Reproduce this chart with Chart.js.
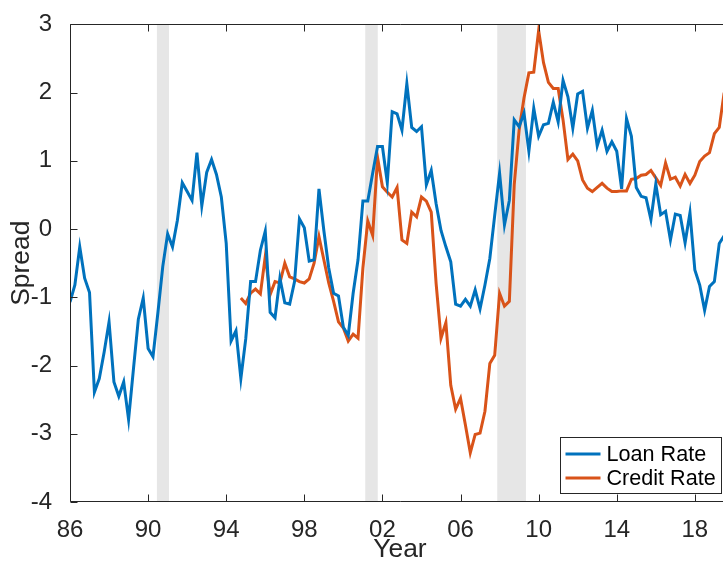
<!DOCTYPE html>
<html><head><meta charset="utf-8">
<script src="https://cdn.jsdelivr.net/npm/chart.js@4.4.1/dist/chart.umd.min.js"></script>
<style>
html,body{margin:0;padding:0;overflow:hidden;background:#fff;width:723px;height:563px}
#wrap{width:730px;height:563px;position:relative}
canvas{display:block}
</style></head>
<body><div id="wrap"><canvas id="c" width="730" height="563"></canvas></div>
<script>
// Quarterly data, loan rate from 1986Q1, credit rate from 1994Q4
const loanStart = 1986;
const loanRate = [
 -1.07,-0.82,-0.26,-0.72,-0.93,-2.39,-2.19,-1.80,-1.36,-2.24,
 -2.45,-2.24,-2.79,-2.05,-1.32,-1.01,-1.75,-1.87,-1.23,-0.55,
 -0.07,-0.26,0.13,0.68,0.55,0.42,1.12,0.34,0.83,1.02,
 0.80,0.47,-0.21,-1.64,-1.49,-2.19,-1.61,-0.77,-0.77,-0.31,
 -0.03,-1.22,-1.30,-0.72,-1.08,-1.10,-0.77,0.15,0.02,-0.47,
 -0.45,0.59,-0.02,-0.57,-0.94,-0.98,-1.44,-1.56,-0.94,-0.45,
 0.41,0.41,0.82,1.21,1.21,0.68,1.72,1.69,1.45,2.13,
 1.49,1.43,1.50,0.65,0.86,0.37,-0.02,-0.26,-0.48,-1.10,
 -1.13,-1.03,-1.13,-0.89,-1.17,-0.82,-0.43,0.20,0.82,0.06,
 0.42,1.60,1.50,1.70,1.14,1.77,1.36,1.53,1.55,1.86,
 1.57,2.18,1.94,1.48,1.98,2.02,1.48,1.74,1.22,1.45,
 1.14,1.28,1.14,0.59,1.62,1.36,0.61,0.48,0.46,0.14,
 0.66,0.21,0.26,-0.16,0.22,0.20,-0.20,0.24,-0.60,-0.82,
 -1.19,-0.84,-0.77,-0.21,-0.10
];
const creditStart = 1994.75;
const creditRate = [
 -1.01,-1.09,-0.94,-0.88,-0.95,-0.40,-0.96,-0.77,-0.79,-0.50,
 -0.70,-0.73,-0.77,-0.79,-0.73,-0.50,-0.11,-0.45,-0.79,-1.06,
 -1.36,-1.45,-1.64,-1.54,-1.60,-0.57,0.12,-0.09,1.05,0.62,
 0.54,0.47,0.61,-0.16,-0.21,0.25,0.18,0.47,0.41,0.25,
 -0.80,-1.60,-1.37,-2.29,-2.64,-2.48,-2.87,-3.28,-3.01,-2.99,
 -2.67,-1.97,-1.85,-0.94,-1.13,-1.06,0.65,1.45,1.92,2.29,
 2.30,2.91,2.44,2.15,2.06,2.06,1.60,1.02,1.10,1.00,
 0.72,0.60,0.55,0.61,0.67,0.60,0.55,0.55,0.56,0.56,
 0.73,0.74,0.79,0.80,0.86,0.75,0.64,0.97,0.73,0.76,
 0.63,0.80,0.67,0.79,0.99,1.07,1.12,1.40,1.49,2.00
];
const recessions = [[1990.45, 1991.07], [2001.12, 2001.76], [2007.88, 2009.35]];
const xTickYears = [1986, 1990, 1994, 1998, 2002, 2006, 2010, 2014, 2018];
const xTickLabels = ['86', '90', '94', '98', '02', '06', '10', '14', '18'];
const yTicks = [3, 2, 1, 0, -1, -2, -3, -4];
const seriesLabels = ['Loan Rate', 'Credit Rate'];
const seriesColors = ['#0072BD', '#D95319'];

const axisColor = '#262626';
const FONT = '"Liberation Sans", Arial, Helvetica, sans-serif';

const loanPts = loanRate.map((v, i) => ({x: loanStart + i * 0.25, y: v}));
const creditPts = creditRate.map((v, i) => ({x: creditStart + i * 0.25, y: v}));

const matlabAxes = {
  id: 'matlabAxes',
  beforeDatasetsDraw(chart) {
    const {ctx, chartArea: a, scales: {x}} = chart;
    ctx.save();
    ctx.fillStyle = '#e6e6e6';
    recessions.forEach(([s, e]) => {
      const x0 = x.getPixelForValue(s), x1 = x.getPixelForValue(e);
      ctx.fillRect(x0, a.top, x1 - x0, a.bottom - a.top);
    });
    ctx.restore();
  },
  afterDatasetsDraw(chart) {
    const {ctx, chartArea: a, scales: {x, y}} = chart;
    const tl = 7;
    ctx.save();
    ctx.strokeStyle = axisColor;
    ctx.lineWidth = 1;
    const L = Math.round(a.left) + 0.5, T = Math.round(a.top) + 0.5, B = Math.round(a.bottom) - 0.5;
    ctx.beginPath();
    ctx.moveTo(a.right + 2, T); ctx.lineTo(L, T); ctx.lineTo(L, B); ctx.lineTo(a.right + 2, B);
    xTickYears.forEach(v => {
      const px = Math.round(x.getPixelForValue(v)) + 0.5;
      ctx.moveTo(px, B); ctx.lineTo(px, B - tl);
      ctx.moveTo(px, T); ctx.lineTo(px, T + tl);
    });
    yTicks.forEach(v => {
      const py = Math.round(y.getPixelForValue(v)) + 0.5;
      ctx.moveTo(L, py); ctx.lineTo(L + tl, py);
    });
    ctx.stroke();

    // legend (southeast, inside axes)
    const bw = 161, bh = 56;
    const bx = Math.round(a.right - 9 - bw) + 0.5, by = Math.round(a.bottom - 9 - bh) + 0.5;
    ctx.fillStyle = '#fff';
    ctx.fillRect(bx, by, bw, bh);
    ctx.strokeRect(bx, by, bw, bh);
    ctx.font = '21.6px ' + FONT;
    ctx.textBaseline = 'middle';
    ctx.textAlign = 'left';
    seriesLabels.forEach((lab, i) => {
      const cy = by + 16.5 + i * 24;
      ctx.strokeStyle = seriesColors[i];
      ctx.lineWidth = 3;
      ctx.beginPath(); ctx.moveTo(bx + 5, cy); ctx.lineTo(bx + 40, cy); ctx.stroke();
      ctx.fillStyle = '#000';
      ctx.fillText(lab, bx + 46, cy + 1);
    });
    ctx.restore();
  }
};

new Chart(document.getElementById('c'), {
  type: 'line',
  data: {
    datasets: [
      {label: seriesLabels[0], data: loanPts, borderColor: seriesColors[0], borderWidth: 3, pointRadius: 0, tension: 0, fill: false},
      {label: seriesLabels[1], data: creditPts, borderColor: seriesColors[1], borderWidth: 3, pointRadius: 0, tension: 0, fill: false}
    ]
  },
  options: {
    responsive: false,
    animation: false,
    devicePixelRatio: 1,
    layout: {padding: {top: 18, left: 0, right: 0, bottom: 0}},
    plugins: {legend: {display: false}, tooltip: {enabled: false}},
    scales: {
      x: {
        type: 'linear', min: 1986, max: 2019.8,
        afterBuildTicks: s => { s.ticks = xTickYears.map(v => ({value: v})); },
        afterFit: s => { s.height = 61; },
        grid: {display: false}, border: {display: false},
        ticks: {autoSkip: false, maxRotation: 0, padding: 6, color: axisColor,
          font: {family: FONT, size: 24},
          callback: v => xTickLabels[xTickYears.indexOf(v)]},
        title: {display: true, text: 'Year', color: axisColor, padding: {top: 0, bottom: 0},
          font: {family: FONT, size: 26.4, lineHeight: 1}}
      },
      y: {
        min: -4, max: 3,
        afterBuildTicks: s => { s.ticks = yTicks.map(v => ({value: v})); },
        afterFit: s => { s.width = 70; },
        grid: {display: false}, border: {display: false},
        ticks: {padding: 10, color: axisColor, font: {family: FONT, size: 24},
          callback: v => String(v)},
        title: {display: true, text: 'Spread', color: axisColor, padding: {top: 9, bottom: 0},
          font: {family: FONT, size: 26.4, lineHeight: 1}}
      }
    }
  },
  plugins: [matlabAxes]
});
</script>
</body></html>
